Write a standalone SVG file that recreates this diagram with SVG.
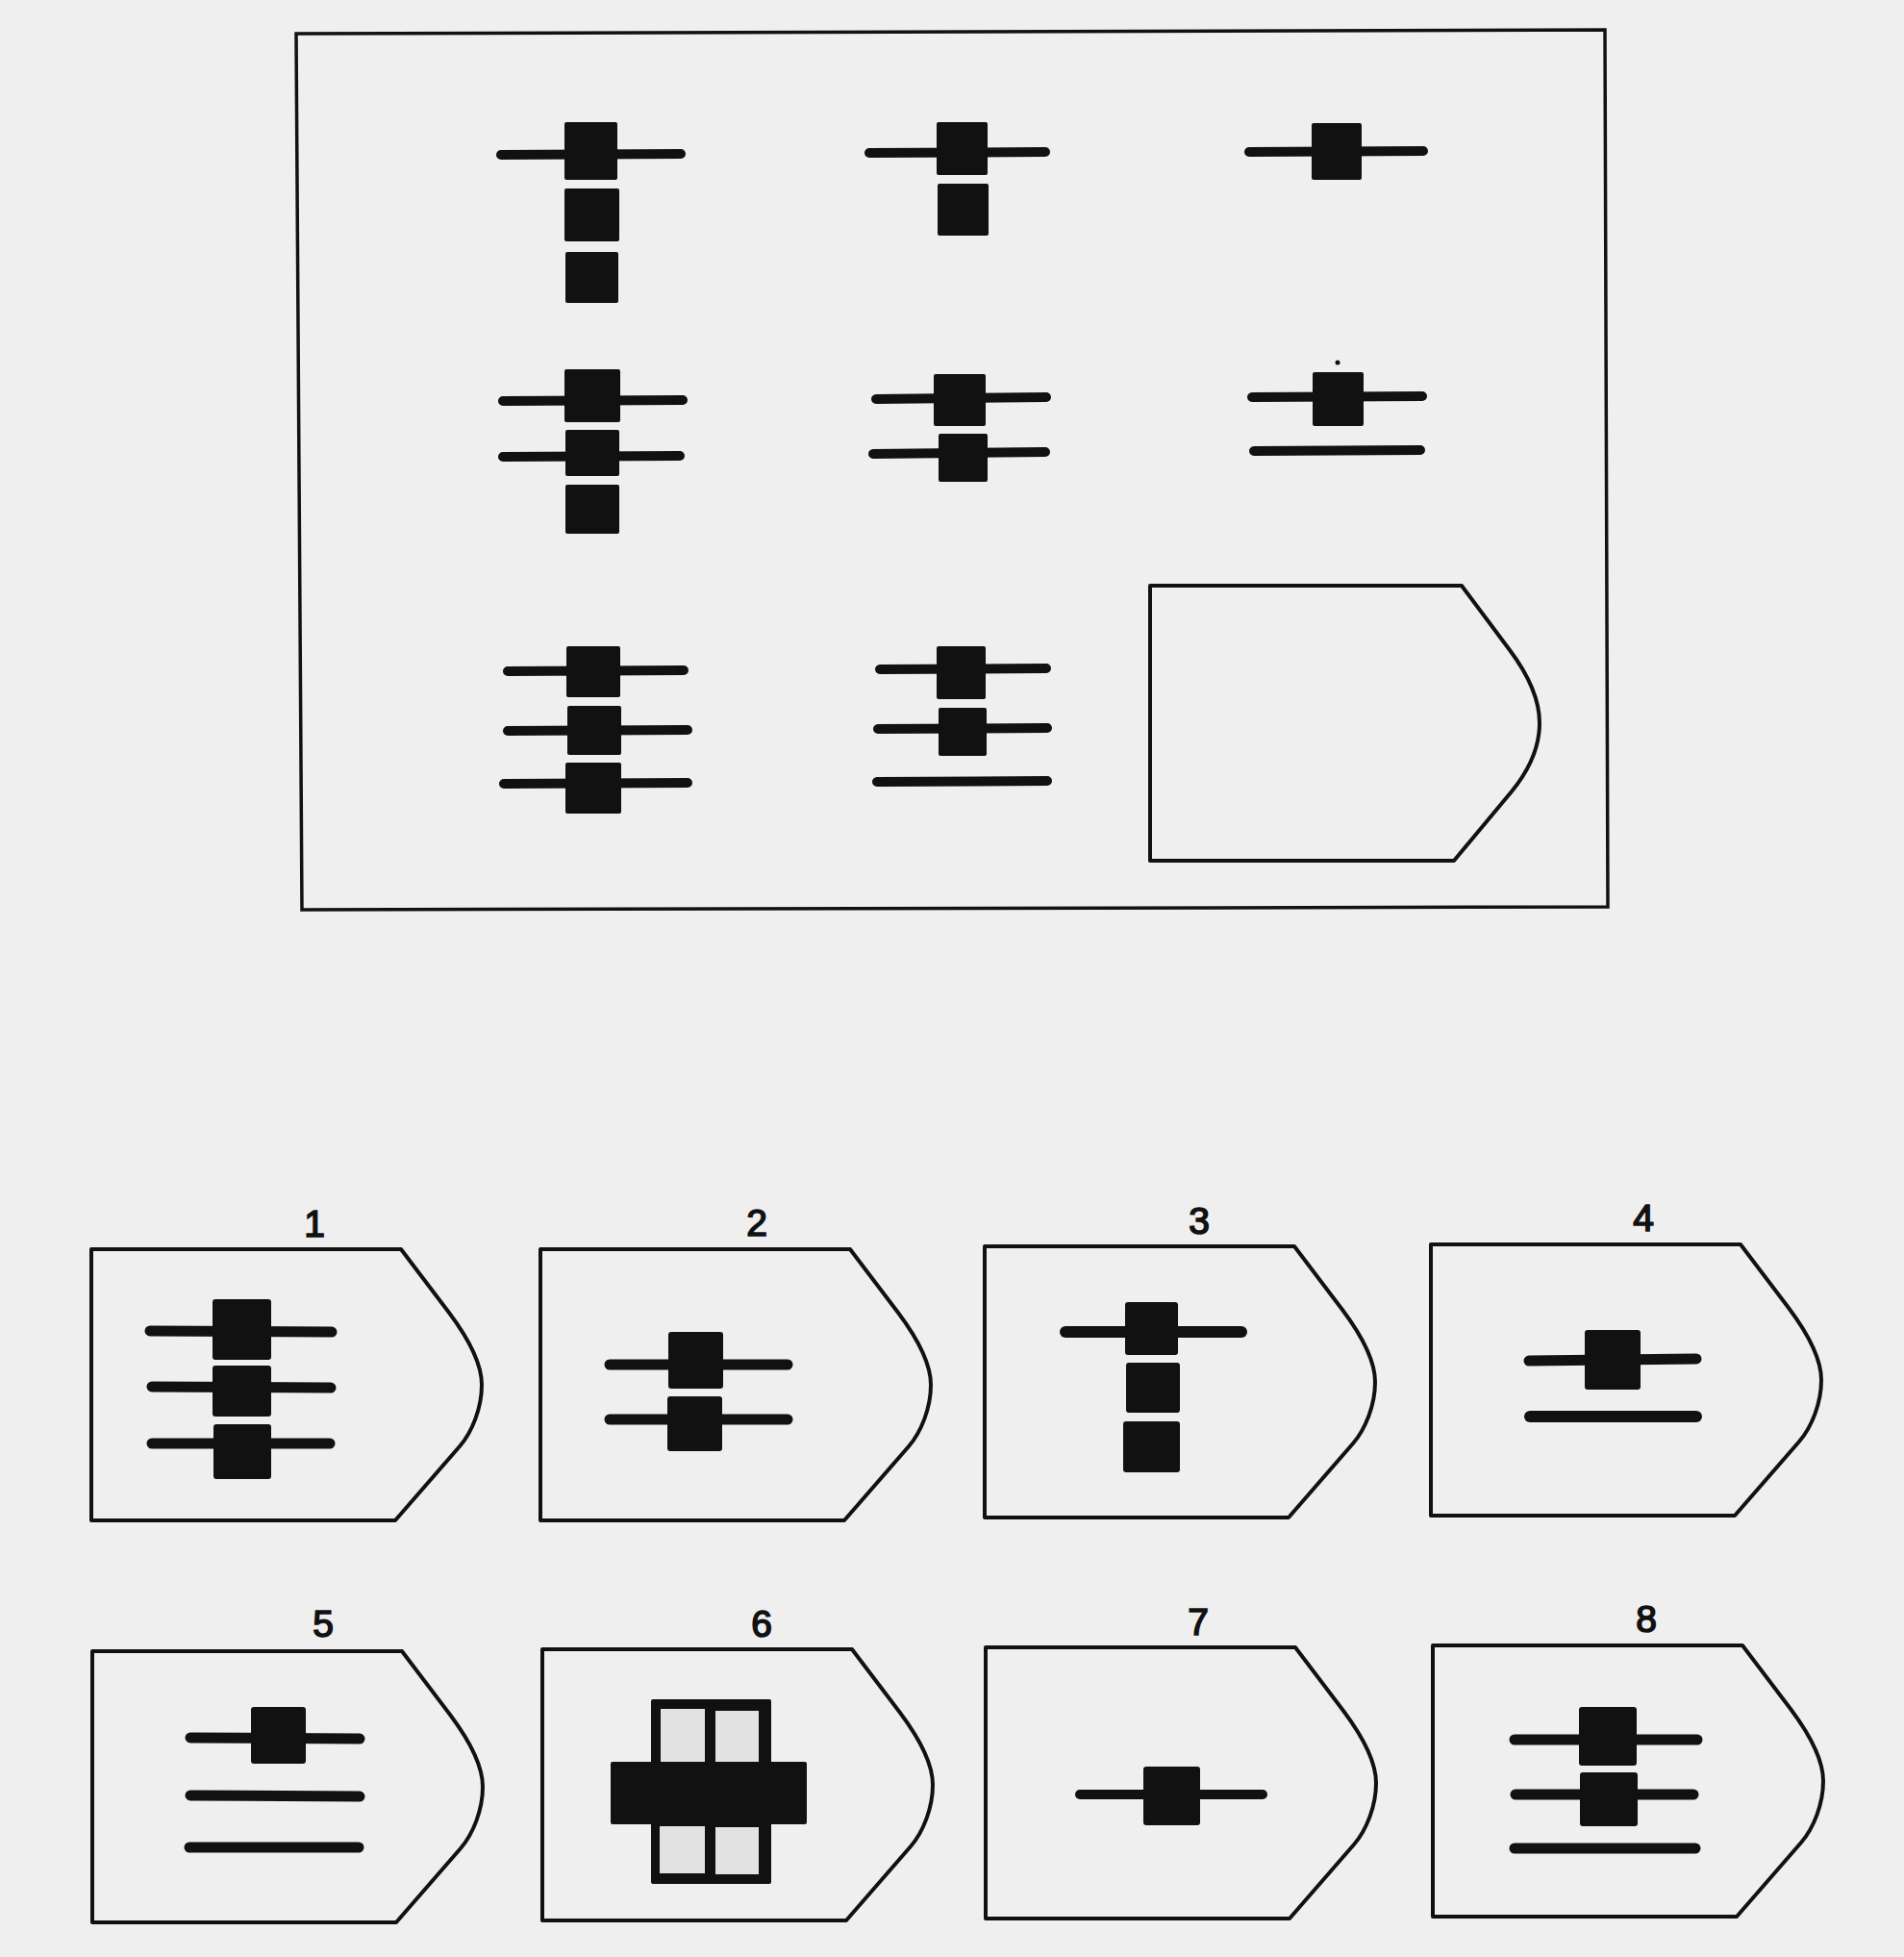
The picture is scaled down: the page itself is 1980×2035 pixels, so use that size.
<svg xmlns="http://www.w3.org/2000/svg" xmlns:xlink="http://www.w3.org/1999/xlink" width="1980" height="2035" viewBox="0 0 1980 2035">
<style>
.bg{fill:#efefef}
.frame{fill:none;stroke:#111;stroke-width:3.5;stroke-linejoin:miter}
.box{fill:none;stroke:#111;stroke-width:4;stroke-linejoin:round}
.bar{stroke:#111;stroke-width:10;stroke-linecap:round;fill:none}
.bar2{stroke:#111;stroke-width:11;stroke-linecap:round;fill:none}
.sq{fill:#111}
.pane{fill:#e2e2e2}
.lbl{font-family:"Liberation Sans",Arial,sans-serif;font-size:39px;fill:#111;stroke:#111;stroke-width:1.6;text-anchor:middle}
</style>
<defs>
<path id="card" d="M0,0 L322,0 L372,66 C387,86 406,115 406,141 C406,165 396,190 383,205 L316,282 L0,282 Z"/>
</defs>
<rect class="bg" x="0" y="0" width="1980" height="2035"/>

<g id="matrix">
<path class="frame" d="M308,35 L1669,31 L1672,943 L314,946 Z"/>
</g>

<g id="cell-1-1">
<rect class="sq" x="587" y="127" width="55" height="60" rx="2"/>
<rect class="sq" x="587" y="196" width="57" height="55" rx="2"/>
<rect class="sq" x="588" y="262" width="55" height="53" rx="2"/>
<line class="bar" x1="521" y1="161" x2="708" y2="160"/>
</g>
<g id="cell-1-2">
<rect class="sq" x="974" y="127" width="53" height="55" rx="2"/>
<rect class="sq" x="975" y="191" width="53" height="54" rx="2"/>
<line class="bar" x1="904" y1="159" x2="1087" y2="158"/>
</g>
<g id="cell-1-3">
<rect class="sq" x="1364" y="128" width="52" height="59" rx="2"/>
<line class="bar" x1="1299" y1="158" x2="1480" y2="157"/>
</g>

<g id="cell-2-1">
<rect class="sq" x="587" y="384" width="58" height="55" rx="2"/>
<rect class="sq" x="588" y="447" width="56" height="48" rx="2"/>
<rect class="sq" x="588" y="504" width="56" height="51" rx="2"/>
<line class="bar" x1="523" y1="417" x2="710" y2="416"/>
<line class="bar" x1="523" y1="475" x2="707" y2="474"/>
</g>
<g id="cell-2-2">
<rect class="sq" x="971" y="389" width="54" height="54" rx="2"/>
<rect class="sq" x="976" y="451" width="51" height="50" rx="2"/>
<line class="bar" x1="911" y1="415" x2="1088" y2="413"/>
<line class="bar" x1="908" y1="472" x2="1087" y2="470"/>
</g>
<g id="cell-2-3">
<circle class="sq" cx="1391" cy="377" r="2.5"/>
<rect class="sq" x="1365" y="387" width="53" height="56" rx="2"/>
<line class="bar" x1="1302" y1="413" x2="1479" y2="412"/>
<line class="bar" x1="1304" y1="469" x2="1477" y2="468"/>
</g>

<g id="cell-3-1">
<rect class="sq" x="589" y="672" width="56" height="53" rx="2"/>
<rect class="sq" x="590" y="734" width="56" height="51" rx="2"/>
<rect class="sq" x="588" y="793" width="58" height="53" rx="2"/>
<line class="bar" x1="528" y1="698" x2="711" y2="697"/>
<line class="bar" x1="528" y1="760" x2="715" y2="759"/>
<line class="bar" x1="524" y1="815" x2="715" y2="814"/>
</g>
<g id="cell-3-2">
<rect class="sq" x="974" y="672" width="51" height="55" rx="2"/>
<rect class="sq" x="976" y="736" width="50" height="50" rx="2"/>
<line class="bar" x1="915" y1="696" x2="1088" y2="695"/>
<line class="bar" x1="913" y1="758" x2="1089" y2="757"/>
<line class="bar" x1="912" y1="813" x2="1089" y2="812"/>
</g>
<g id="cell-3-3">
<path class="box" d="M1196,609 L1520,609 L1570,676 C1588,700 1601,725 1601,752 C1601,778 1590,801 1572,823 L1512,895 L1196,895 Z"/>
</g>

<g id="option-1">
<text class="lbl" x="327" y="1286">1</text>
<use xlink:href="#card" class="box" x="95" y="1299"/>
<rect class="sq" x="221" y="1351" width="61" height="63" rx="3"/>
<rect class="sq" x="221" y="1420" width="61" height="53" rx="3"/>
<rect class="sq" x="222" y="1481" width="60" height="57" rx="3"/>
<line class="bar2" x1="156" y1="1384" x2="345" y2="1385"/>
<line class="bar2" x1="158" y1="1442" x2="344" y2="1443"/>
<line class="bar2" x1="158" y1="1501" x2="343" y2="1501"/>
</g>
<g id="option-2">
<text class="lbl" x="787" y="1285">2</text>
<use xlink:href="#card" class="box" x="562" y="1299"/>
<rect class="sq" x="695" y="1385" width="57" height="59" rx="3"/>
<rect class="sq" x="694" y="1452" width="57" height="57" rx="3"/>
<line class="bar2" x1="634" y1="1419" x2="819" y2="1419"/>
<line class="bar2" x1="634" y1="1476" x2="819" y2="1476"/>
</g>
<g id="option-3">
<text class="lbl" x="1247" y="1283">3</text>
<use xlink:href="#card" class="box" x="1024" y="1296"/>
<rect class="sq" x="1170" y="1354" width="55" height="55" rx="3"/>
<rect class="sq" x="1171" y="1417" width="56" height="52" rx="3"/>
<rect class="sq" x="1168" y="1478" width="59" height="53" rx="3"/>
<line class="bar2" x1="1108" y1="1385" x2="1291" y2="1385" style="stroke-width:12"/>
</g>
<g id="option-4">
<text class="lbl" x="1709" y="1280">4</text>
<use xlink:href="#card" class="box" x="1488" y="1294"/>
<rect class="sq" x="1648" y="1383" width="58" height="62" rx="3"/>
<line class="bar2" x1="1590" y1="1415" x2="1764" y2="1413"/>
<line class="bar2" x1="1591" y1="1473" x2="1764" y2="1473" style="stroke-width:12"/>
</g>
<g id="option-5">
<text class="lbl" x="336" y="1702">5</text>
<use xlink:href="#card" class="box" x="96" y="1717"/>
<rect class="sq" x="261" y="1775" width="57" height="59" rx="3"/>
<line class="bar2" x1="198" y1="1807" x2="374" y2="1808"/>
<line class="bar2" x1="198" y1="1867" x2="374" y2="1868"/>
<line class="bar2" x1="197" y1="1921" x2="373" y2="1921"/>
</g>
<g id="option-6">
<text class="lbl" x="792" y="1702">6</text>
<use xlink:href="#card" class="box" x="564" y="1715"/>
<rect class="sq" x="677" y="1767" width="125" height="192" rx="2"/>
<rect class="pane" x="687" y="1777" width="46" height="57"/>
<rect class="pane" x="744" y="1779" width="45" height="55"/>
<rect class="pane" x="686" y="1899" width="47" height="49"/>
<rect class="pane" x="744" y="1900" width="45" height="49"/>
<rect class="sq" x="635" y="1832" width="204" height="65" rx="2"/>
</g>
<g id="option-7">
<text class="lbl" x="1246" y="1700">7</text>
<use xlink:href="#card" class="box" x="1025" y="1713"/>
<rect class="sq" x="1189" y="1837" width="59" height="61" rx="3"/>
<line class="bar" x1="1123" y1="1866" x2="1313" y2="1866"/>
</g>
<g id="option-8">
<text class="lbl" x="1712" y="1697">8</text>
<use xlink:href="#card" class="box" x="1490" y="1711"/>
<rect class="sq" x="1642" y="1775" width="60" height="61" rx="3"/>
<rect class="sq" x="1643" y="1843" width="60" height="56" rx="3"/>
<line class="bar2" x1="1575" y1="1809" x2="1765" y2="1809"/>
<line class="bar2" x1="1576" y1="1866" x2="1761" y2="1866"/>
<line class="bar2" x1="1575" y1="1922" x2="1763" y2="1922"/>
</g>

<g id="connectors"></g>
</svg>
